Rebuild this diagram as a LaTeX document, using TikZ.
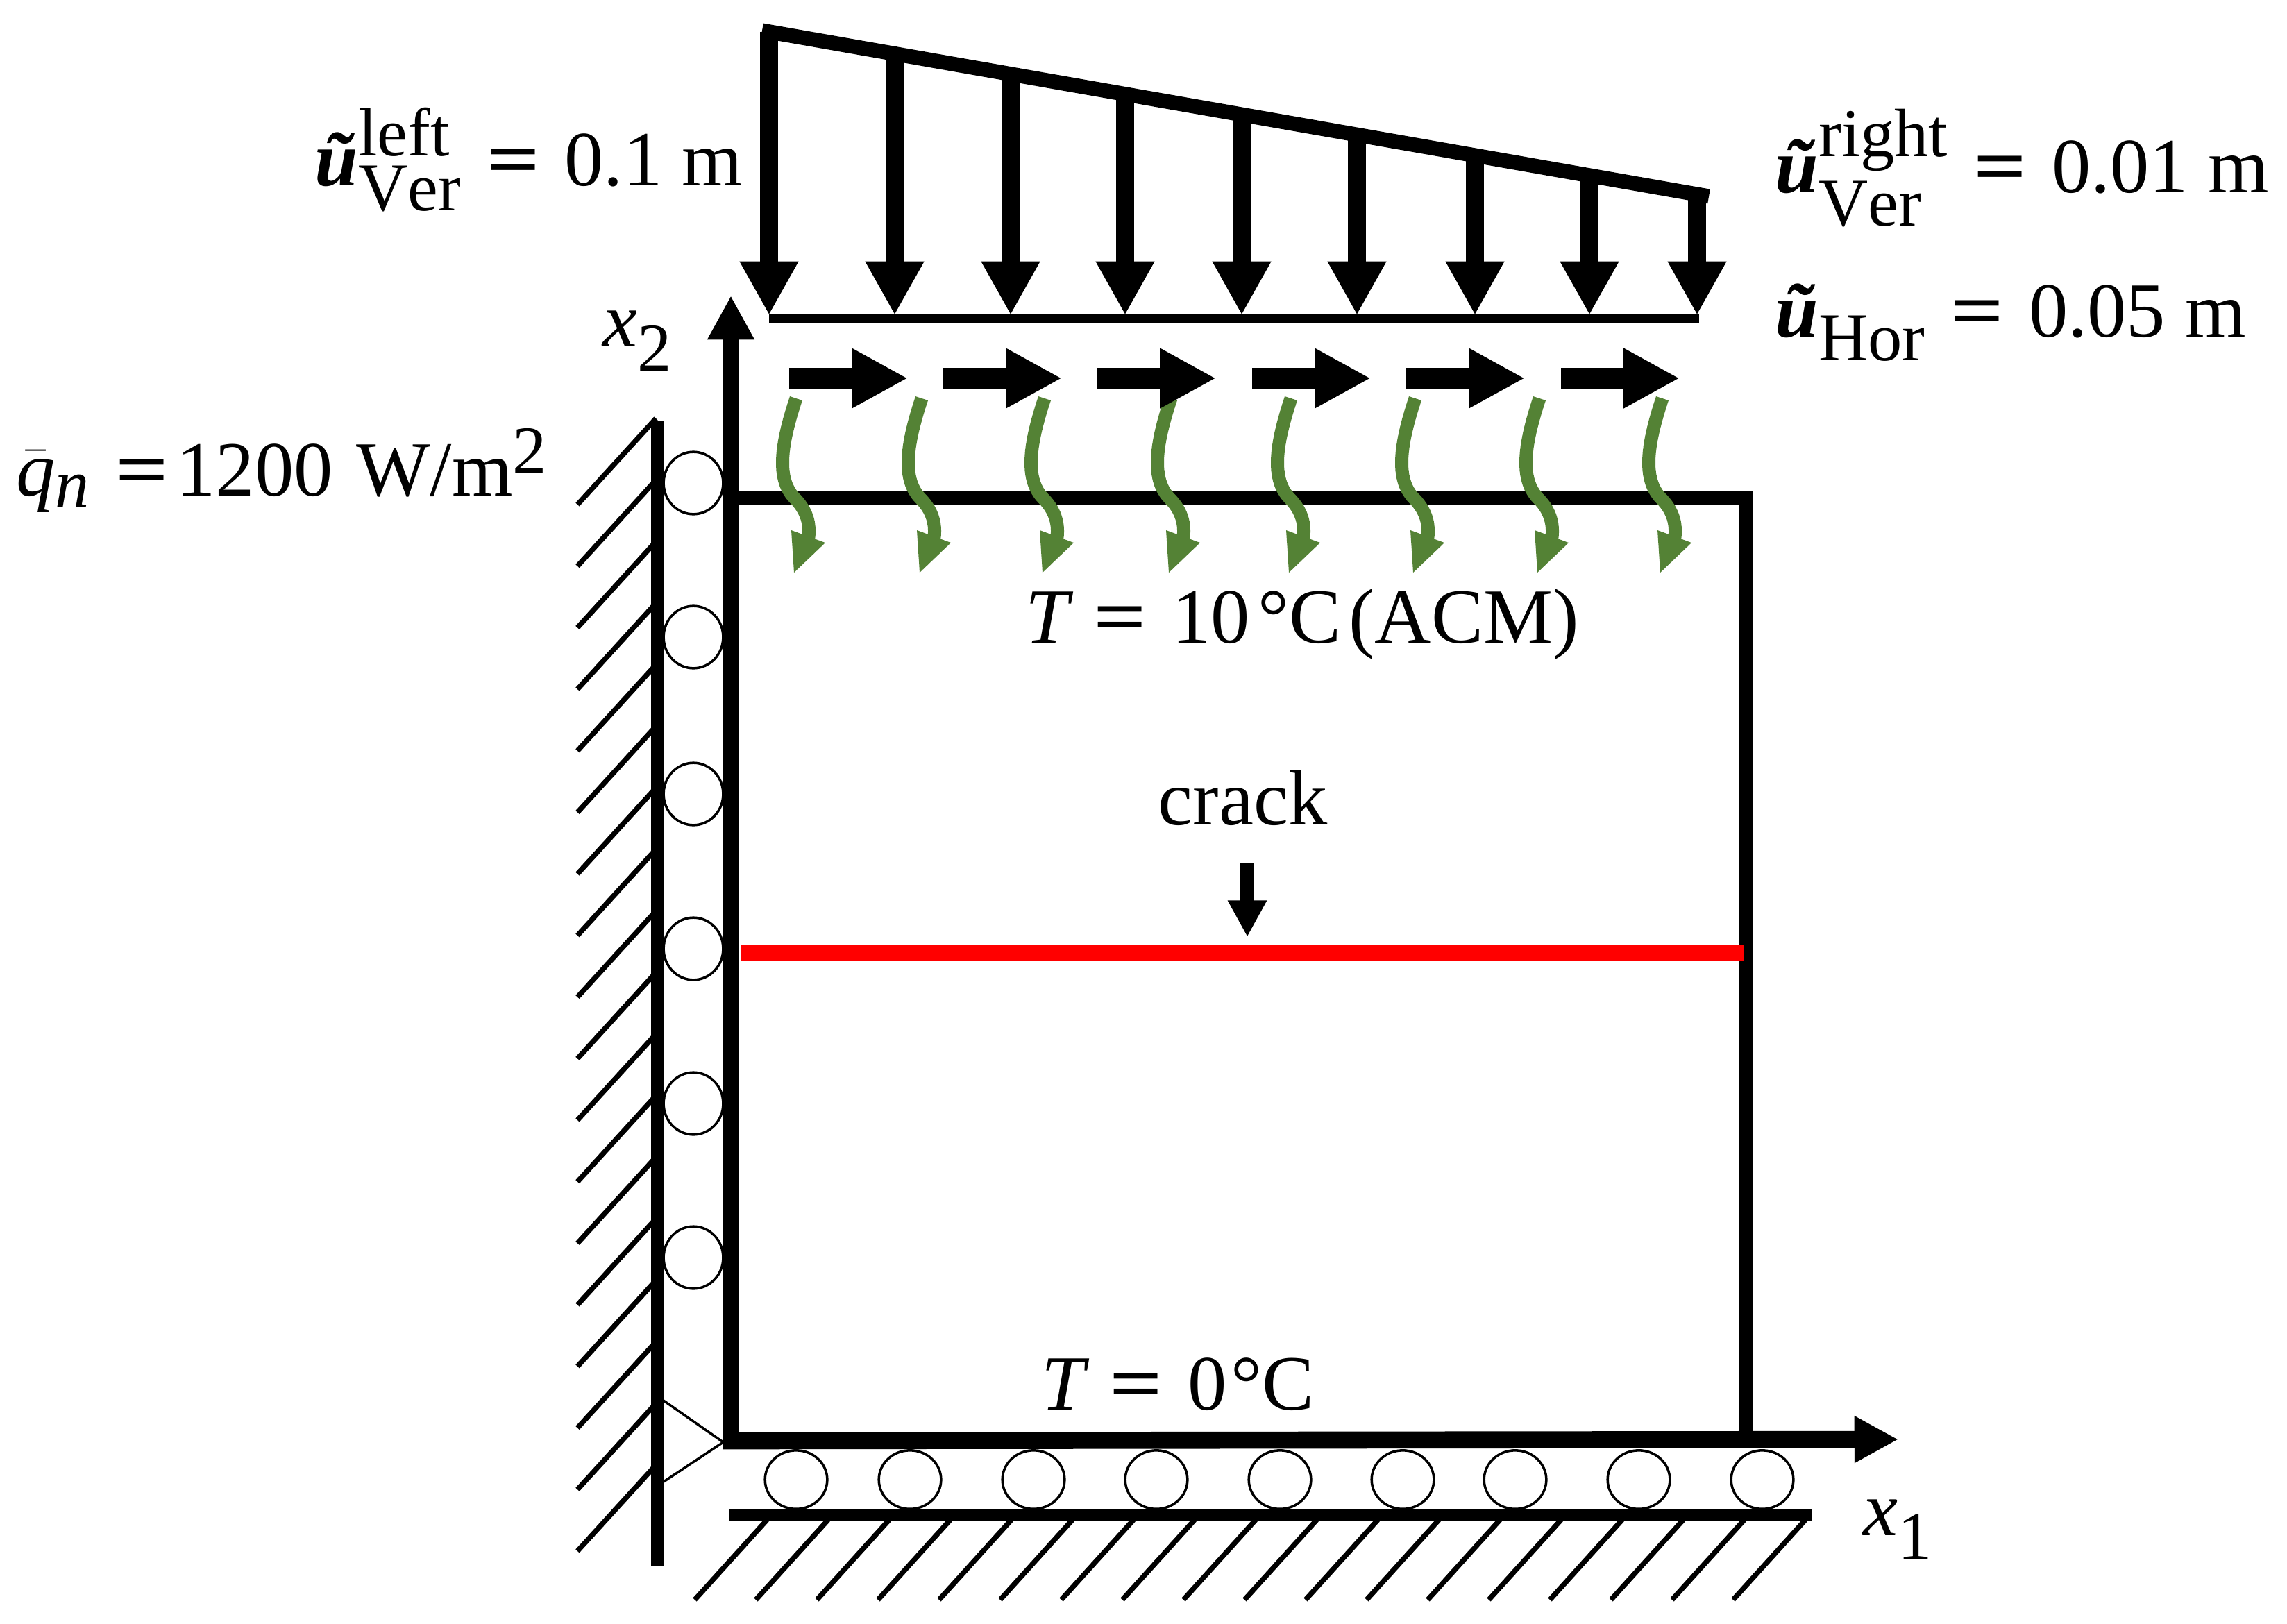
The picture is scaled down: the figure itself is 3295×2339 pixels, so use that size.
\documentclass[tikz,border=0pt]{standalone}
\usepackage{amsmath}
\usepackage{fontspec}
\setmainfont{Liberation Serif}
\usepackage{xcolor}
\definecolor{Col1}{RGB}{84,130,53}
\definecolor{Col2}{RGB}{255,0,0}
\usetikzlibrary{shapes}
\usetikzlibrary{arrows.meta}
\DeclareMathSizes{32}{32}{28}{20}
\newcommand{\BoldU}{\text{\textbf{\textit{ũ}}}}
\newcommand{\Eq}{\mathrel{\hspace{.1em}\text{\scalebox{1.2}[1]{\textbf{=}}}\hspace{.1em}}}
\tikzstyle{Lbl}=[anchor=base west,inner sep=0pt,font=\fontsize{32}{38}\selectfont]
\tikzstyle{Wall}=[line width=5.1pt]
\tikzstyle{Hatch}=[line width=2.1pt]
\tikzstyle{Roller}=[ellipse,draw,line width=1pt,fill=white,inner sep=0pt]
\tikzstyle{Frame}=[line width=5.4pt]
\tikzstyle{Down}=[line width=7.6pt,-{Triangle[length=22pt,width=22.5pt]}]
\tikzstyle{Right}=[line width=8.5pt,-{Triangle[length=23pt,width=23pt]}]
\tikzstyle{Heat}=[draw=Col1,line width=5.4pt]

\begin{document}
\begin{tikzpicture}[x=.01cm,y=-.01cm]
    \useasboundingbox(0,0)rectangle(3295,2339);
    % left wall
    \foreach \k in {0,...,17}{
        \coordinate(wa\k)at(945,{603+88.7*\k});
        \coordinate(wb\k)at(832,{727+88.7*\k});
        \draw[Hatch](wa\k)--(wb\k);
    }
    \coordinate(wt)at(947,606);
    \coordinate(wb)at(947,2257);
    \draw[Wall](wt)--(wb);
    % ground
    \foreach \k in {0,...,17}{
        \coordinate(ga\k)at({1105+88*\k},2190);
        \coordinate(gb\k)at({1001+88*\k},2305);
        \draw[Hatch](ga\k)--(gb\k);
    }
    \coordinate(gl)at(1050,2183);
    \coordinate(gr)at(2611,2183);
    \draw[Wall](gl)--(gr);
    % rollers
    \foreach \y in {696,918,1144,1367,1590,1812}{
        \node[Roller,minimum width=24.4pt,minimum height=25.5pt](rl\y)at(999,\y){};
    }
    \foreach \x in {1147,1311,1489,1666,1844,2021,2183,2361,2539}{
        \node[Roller,minimum width=25.5pt,minimum height=24pt](rb\x)at(\x,2132){};
    }
    % pin
    \coordinate(pa)at(956,2018);
    \coordinate(pb)at(1042,2078);
    \coordinate(pc)at(956,2135);
    \draw[line width=1pt](pa)--(pb)--(pc);
    % block and axes
    \coordinate(o)at(1053,2076);
    \coordinate(bl)at(1053,717);
    \coordinate(br)at(2515,717);
    \coordinate(be)at(2515,2076);
    \draw[Frame](bl)--(br)--(be);
    \coordinate(xtwo)at(1053,426);
    \coordinate(xone)at(2735,2074);
    \draw[line width=6pt,-{Triangle[length=18pt,width=18pt]}](1053,2088)--(xtwo);
    \draw[line width=7pt,-{Triangle[length=18pt,width=18pt]}](1042,2076)--(xone);
    % crack
    \coordinate(cl)at(1068,1373);
    \coordinate(cr)at(2513,1373);
    \draw[Col2,line width=6.6pt](cl)--(cr);
    \coordinate(ca)at(1797,1244);
    \coordinate(cb)at(1797,1350);
    \draw[line width=5.6pt,-{Triangle[length=15pt,width=15pt]}](ca)--(cb);
    % vertical load
    \coordinate(lt)at(1098,44);
    \coordinate(lr)at(2462,283);
    \draw[line width=6pt](lt)--(lr);
    \coordinate(ll)at(1108,459);
    \coordinate(le)at(2448,459);
    \draw[line width=3.8pt](ll)--(le);
    \foreach \x in {1108,1289,1456,1621,1789,1955,2125,2290,2445}{
        \coordinate(da\x)at(\x,{44+(\x-1098)*.1752});
        \coordinate(db\x)at(\x,454);
        \draw[Down](da\x)--(db\x);
    }
    % heat flux
    \foreach \x in {1147,1328,1505,1687,1860,2039,2218,2395}{
        \begin{scope}[shift={(\x-1147,0)}]
            \draw[Heat](1147,574)
                .. controls (1125,640) and (1118,690) .. (1145,718)
                .. controls (1165,738) and (1168,760) .. (1164,780);
            \fill[Col1](1140,764)--(1189,782)--(1144,825)--cycle;
        \end{scope}
    }
    % horizontal load
    \foreach \x in {1137,1359,1581,1804,2026,2249}{
        \coordinate(ha\x)at(\x,545);
        \coordinate(hb\x)at({\x+171},545);
        \draw[Right](ha\x)--(hb\x);
    }
    % labels
    \node[Lbl](ulabel)at(453,267){\begin{math}\BoldU^{\mathrm{left}}_{\mathrm{Ver}}\Eq\text{0.1 m}\end{math}};
    \node[Lbl](rlabel)at(2557,277){\begin{math}\BoldU^{\mathrm{right}}_{\mathrm{Ver}}\Eq\text{0.01 m}\end{math}};
    \node[Lbl](hlabel)at(2557,485){\begin{math}\BoldU_{\mathrm{Hor}}\Eq\text{0.05 m}\end{math}};
    \node[Lbl](qlabel)at(23,714){\begin{math}\bar{\mathit{q}}_{\mathit{n}}\Eq\end{math}1200\hspace{.3em}W/m\textsuperscript{2}};
    \node[Lbl](xtlabel)at(868,499){\begin{math}\mathit{x}_{\mathrm{2}}\end{math}};
    \node[Lbl](xolabel)at(2684,2212){\begin{math}\mathit{x}_{\mathrm{1}}\end{math}};
    \node[Lbl](ttop)at(1477,926){\begin{math}\mathit{T}\Eq\text{10\hspace{.1em}°C\hspace{.1em}(ACM)}\end{math}};
    \node[Lbl](tbot)at(1500,2031){\begin{math}\mathit{T}\Eq\text{0\hspace{.05em}°C}\end{math}};
    \node[Lbl](clabel)at(1668,1188){crack};
\end{tikzpicture}
\end{document}
